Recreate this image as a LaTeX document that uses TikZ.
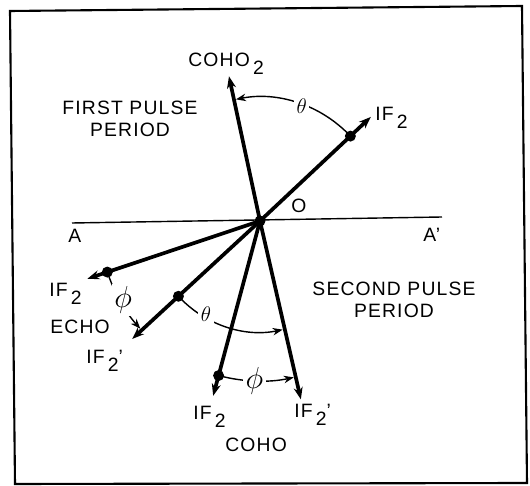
\documentclass[tikz,border=0pt]{standalone}
\usepackage{fontspec}
\setmainfont{Liberation Sans}[LetterSpace=6.0]
\usepackage{tikz}
\usetikzlibrary{arrows.meta,calc}
\newcommand{\dn}[1]{\,\raisebox{-0.4em}{#1}}
\tikzset{
  vec/.style={-{Stealth[length=2.4mm,width=1.8mm]},line width=2.1pt},
  refline/.style={line width=0.8pt},
  turn/.style={-{Stealth[length=2mm,width=1.5mm]},line width=0.8pt},
  blob/.style={circle,fill=black,inner sep=0pt,minimum size=2.2mm},
  lbl/.style={font=\fontsize{11}{12.5}\selectfont,inner sep=0pt,anchor=base west},
  ang/.style={fill=white,inner sep=1.5pt,font=\large}
}
\begin{document}
\begin{tikzpicture}[x=0.2mm,y=0.2mm]
  \useasboundingbox (0,0) rectangle (530,-486);
  \draw[line width=1.2pt] (10,-11)--(522,-6)--(527,-483)--(15,-484)--cycle;
  \coordinate (O) at (260,-221);
  \coordinate (aL) at (72,-223); \coordinate (aR) at (442,-217);
  \draw[refline] (aL)--(aR);
  \coordinate (tC2) at ($(O)+(102.1:148)$);
  \coordinate (tIf) at ($(O)+(43.2:152)$);
  \coordinate (tEIf) at ($(O)+(198.5:182)$);
  \coordinate (tEIfp) at ($(O)+(222.7:174)$);
  \coordinate (tCIf) at ($(O)+(255:181)$);
  \coordinate (tCIfp) at ($(O)+(282.9:183)$);
  \foreach \t in {tC2,tIf,tEIf,tEIfp,tCIf,tCIfp} \draw[vec] (O)--(\t);
  \node[blob] (o) at (O) {};
  \node[blob] (d1) at ($(O)+(43.2:124)$) {};
  \node[blob] (d2) at ($(O)+(198.5:161)$) {};
  \node[blob] (d3) at ($(O)+(222.7:111)$) {};
  \node[blob] (d4) at ($(O)+(255:160)$) {};
  \draw[turn] (d1.center) arc[start angle=43.2,end angle=101.2,radius=124];
  \draw[turn] (d2.center) arc[start angle=198.5,end angle=222,radius=161];
  \draw[turn] (d3.center) arc[start angle=222.7,end angle=281.8,radius=111];
  \draw[turn] (d4.center) arc[start angle=255,end angle=282.2,radius=160];
  \node[ang] (th1) at ($(O)+(70:122)$) {$\theta$};
  \node[ang] (th2) at ($(O)+(240:108)$) {$\theta$};
  \node[ang,font=\LARGE] (ph1) at ($(O)+(210:158)$) {$\phi$};
  \node[ang,font=\LARGE] (ph2) at ($(O)+(268:160)$) {$\phi$};
  \node[lbl] (lC2) at (188,-67) {COHO\dn{2}};
  \node[lbl] (lIf) at (375,-121) {IF\dn{2}};
  \node[lbl] (lO) at (291,-213) {O};
  \node[lbl] (lA) at (68,-243) {A};
  \node[lbl] (lAp) at (423,-242) {A'};
  \node[lbl] (lEIf) at (49,-297) {IF\dn{2}};
  \node[lbl] (lEcho) at (50,-334) {ECHO};
  \node[lbl] (lEIfp) at (86,-364) {IF\dn{2}'};
  \node[lbl] (lCIf) at (193,-420) {IF\dn{2}};
  \node[lbl] (lCIfp) at (294,-418) {IF\dn{2}'};
  \node[lbl] (lCoho) at (225,-452) {COHO};
  \node[lbl,anchor=center,align=center] (first) at (130,-118.5) {FIRST PULSE\\PERIOD};
  \node[lbl,anchor=center,align=center] (second) at (394,-299.5) {SECOND PULSE\\PERIOD};
\end{tikzpicture}
\end{document}
